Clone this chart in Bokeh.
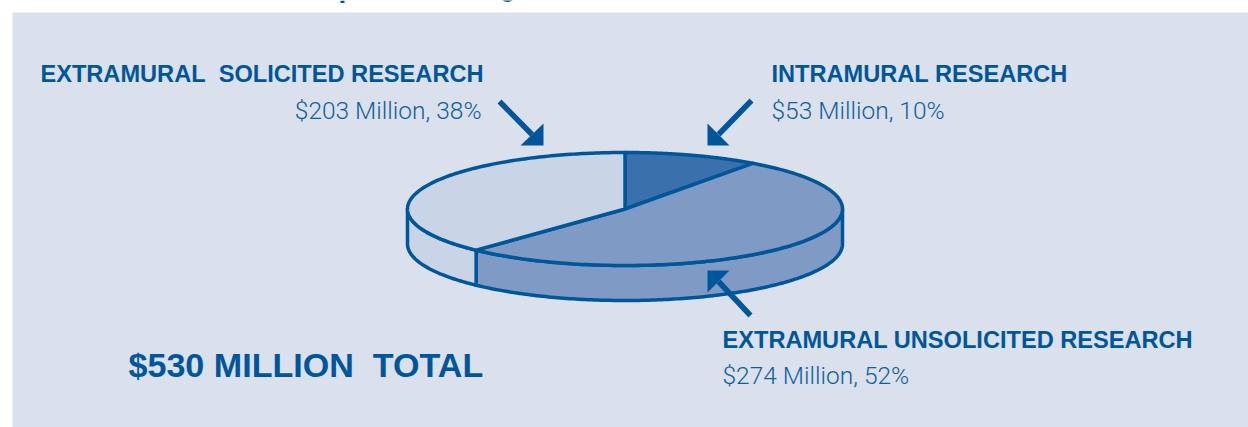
import numpy as np
from bokeh.core.properties import value
from bokeh.embed import file_html
from bokeh.models import Range1d
from bokeh.plotting import figure
from bokeh.resources import INLINE

# Budget split, clockwise from twelve o'clock
categories = ["INTRAMURAL RESEARCH", "EXTRAMURAL UNSOLICITED RESEARCH", "EXTRAMURAL\u00a0\u00a0SOLICITED RESEARCH"]
millions = [53, 274, 203]
percents = [10, 52, 38]
total_label = "$530 MILLION\u00a0\u00a0TOTAL"
slice_colors = ["#3A70AC", "#7F9BC5", "#CAD4E7"]

NAVY = "#00569B"
PANEL = "#DAE0EC"
CX, CY, RX, RY, DEPTH = 624.5, 208.5, 217.5, 56.5, 35.0

p = figure(width=1248, height=427, output_backend="svg", toolbar_location=None,
           x_range=Range1d(0, 1248), y_range=Range1d(427, 0), min_border=0)
p.axis.visible = False
p.grid.visible = False
p.outline_line_color = None
p.background_fill_color = "white"
p.border_fill_color = "white"

p.quad(left=[12], right=[1248], top=[12], bottom=[427], fill_color=PANEL, line_color=None)

# Slivers of the heading's descenders along the top of the page
p.quad(left=[340], right=[344], top=[0], bottom=[2.5], fill_color=NAVY, line_color=None)
p.ellipse(x=[507], y=[-1.5], width=[11], height=[6], fill_color=NAVY, line_color=None)


def rim(a0, a1, dy=0.0, n=160):
    """Points on the ellipse between two clock angles in degrees."""
    t = np.radians(np.linspace(a0, a1, n))
    return CX + RX * np.sin(t), CY - RY * np.cos(t) + dy


edges = np.concatenate([[0], np.cumsum(percents) * 3.6])

# Wall of the disc: only the part of each slice on the near side shows
for a0, a1, color in zip(edges[:-1], edges[1:], slice_colors):
    lo, hi = max(a0, 90), min(a1, 270)
    if lo >= hi:
        continue
    xt, yt = rim(lo, hi)
    xb, yb = rim(hi, lo, DEPTH)
    p.patch(np.r_[xt, xb], np.r_[yt, yb], fill_color=color, line_color=NAVY, line_width=3.5, line_join="round")

# Top face
for a0, a1, color in zip(edges[:-1], edges[1:], slice_colors):
    xs, ys = rim(a0, a1)
    p.patch(np.r_[CX, xs], np.r_[CY, ys], fill_color=color, line_color=NAVY, line_width=3.5, line_join="round")

# Pointers: shaft from the tail into a filled head
pointer_tails = [(499, 101), (751, 100), (750, 315)]
pointer_heads = [
    [(543, 145), (543, 123), (520, 145)],
    [(707, 145), (707, 123), (729, 145)],
    [(707, 270), (729, 270), (707, 292)],
]
for tail, head in zip(pointer_tails, pointer_heads):
    hx = [c[0] for c in head]
    hy = [c[1] for c in head]
    p.line([tail[0], (hx[1] + hx[2]) / 2], [tail[1], (hy[1] + hy[2]) / 2], line_color=NAVY, line_width=5.5)
    p.patch(hx, hy, fill_color=NAVY, line_color=None)


def label(x, y, text, size, bold=False, align="left", font="Liberation Sans", color=NAVY):
    p.text([x], [y], text=[text], text_font=value(font), text_font_size=f"{size}px",
           text_font_style="bold" if bold else "normal", text_color=color,
           text_align=align, text_baseline="alphabetic")


amounts = [f"${m} Million, {q}%" for m, q in zip(millions, percents)]
LIGHT = dict(font="Roboto Light", color="#0F5F9F")

label(771, 73, categories[0], 23.6, bold=True)
label(771, 110, amounts[0], 24.5, **LIGHT)
label(722, 339, categories[1], 23.6, bold=True)
label(722, 375, amounts[1], 24.5, **LIGHT)
label(483, 73, categories[2], 23.6, bold=True, align="right")
label(481, 110, amounts[2], 24.5, align="right", **LIGHT)
label(128, 364, total_label, 34.1, bold=True)

open("out.html", "w").write(file_html(p, INLINE))
